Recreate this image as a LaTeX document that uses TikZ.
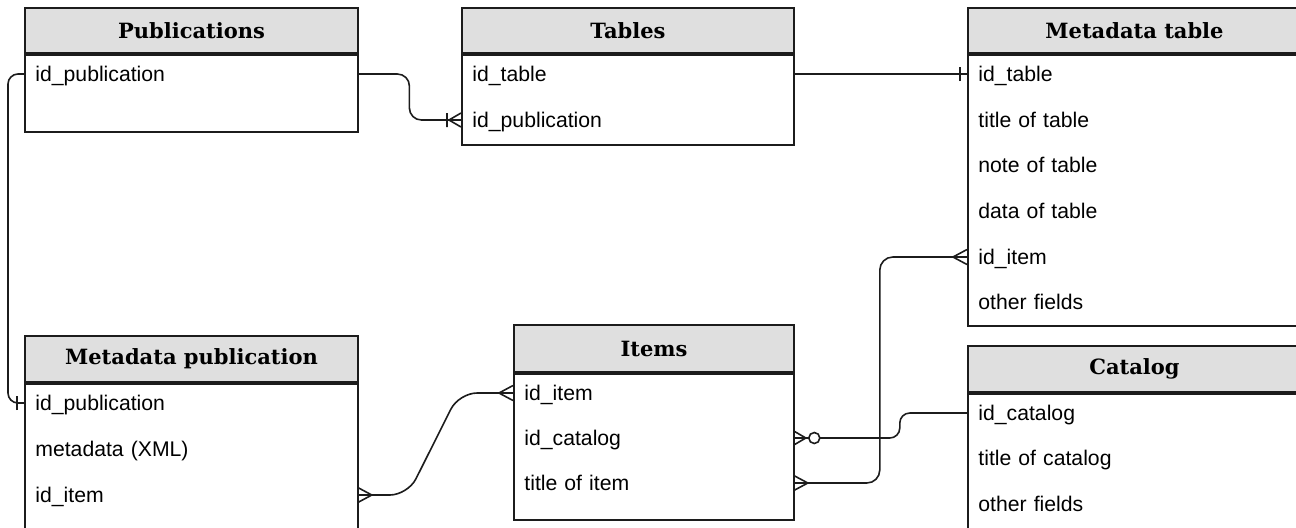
\documentclass[tikz,border=0pt]{standalone}
\usepackage{fontspec}
\setmainfont{Liberation Sans}
\newfontfamily\headfont{DejaVu Serif}
\usetikzlibrary{calc}

\definecolor{headgray}{HTML}{DFDFDF}
\definecolor{edgecol}{HTML}{1C1C1C}

\tikzset{
  head/.style={draw=edgecol,fill=headgray,line width=1pt,rectangle,anchor=north west,inner sep=0pt,
    font=\headfont\bfseries\fontsize{10.5}{12}\selectfont},
  body/.style={draw=edgecol,line width=1pt,rectangle,anchor=north west,inner sep=0pt},
  row/.style={anchor=west,text width=#1,inner xsep=5.5pt,inner ysep=0pt,text height=7.6pt,text depth=0pt,
    align=left,font=\fontsize{10.6}{12}\selectfont},
  link/.style={draw=edgecol,line width=0.8pt},
  many/.pic={\draw[link] (14,0) -- (0,-7.5) (14,0) -- (0,7.5);},
  one/.pic={\draw[link] (7,-7) -- (7,7);},
  onemany/.pic={\draw[link] (14,-7) -- (14,7) (12,0) -- (0,-7) (12,0) -- (0,7);},
  zeromany/.pic={\draw[link] (12,0) -- (0,-7) (12,0) -- (0,7); \draw[link,fill=white] (20.5,0) circle (2.75pt);}
}

\begin{document}
\begin{tikzpicture}[x=0.5pt,y=-0.5pt]
  \useasboundingbox (0,0) rectangle (1296,527);

  \node[head,minimum width=166.5pt,minimum height=22.5pt] (pub) at (24,7) {Publications};
  \node[body,minimum width=166.5pt,minimum height=38.5pt] (pub-body) at (pub.south west) {};
  \node[row=155.5pt] (pub-id) at (24,74) {id\_publication};

  \node[head,minimum width=166pt,minimum height=22.5pt] (tab) at (461,7) {Tables};
  \node[body,minimum width=166pt,minimum height=45pt] (tab-body) at (tab.south west) {};
  \node[row=155pt] (tab-id) at (461,74) {id\_table};
  \node[row=155pt] (tab-pub) at (461,120) {id\_publication};

  \node[head,minimum width=166.5pt,minimum height=22.5pt] (mtab) at (967,7) {Metadata table};
  \node[body,minimum width=166.5pt,minimum height=135.5pt] (mtab-body) at (mtab.south west) {};
  \node[row=155.5pt] (mtab-id) at (967,74) {id\_table};
  \node[row=155.5pt] (mtab-title) at (967,120) {title of table};
  \node[row=155.5pt] (mtab-note) at (967,165) {note of table};
  \node[row=155.5pt] (mtab-data) at (967,211) {data of table};
  \node[row=155.5pt] (mtab-item) at (967,257) {id\_item};
  \node[row=155.5pt] (mtab-other) at (967,302) {other fields};

  \node[head,minimum width=166.5pt,minimum height=23pt] (mpub) at (24,335) {Metadata publication};
  \node[body,minimum width=166.5pt,minimum height=75.5pt] (mpub-body) at (mpub.south west) {};
  \node[row=155.5pt] (mpub-id) at (24,403) {id\_publication};
  \node[row=155.5pt] (mpub-xml) at (24,449) {metadata (XML)};
  \node[row=155.5pt] (mpub-item) at (24,495) {id\_item};

  \node[head,minimum width=140pt,minimum height=23.5pt] (item) at (513,324) {Items};
  \node[body,minimum width=140pt,minimum height=73pt] (item-body) at (item.south west) {};
  \node[row=129pt] (item-id) at (513,393) {id\_item};
  \node[row=129pt] (item-cat) at (513,438) {id\_catalog};
  \node[row=129pt] (item-title) at (513,483) {title of item};

  \node[head,minimum width=166.5pt,minimum height=23pt] (cat) at (967,345) {Catalog};
  \node[body,minimum width=166.5pt,minimum height=70.5pt] (cat-body) at (cat.south west) {};
  \node[row=155.5pt] (cat-id) at (967,413) {id\_catalog};
  \node[row=155.5pt] (cat-title) at (967,458) {title of catalog};
  \node[row=155.5pt] (cat-other) at (967,504) {other fields};

  \draw[link,rounded corners=5pt] (pub-id.west) -- ++(-16,0) |- (mpub-id.west);
  \draw[link,rounded corners=6pt] (pub-id.east) -| ($(pub-id.east)!.5!(tab-pub.west)$) |- (tab-pub.west);
  \draw[link] (tab-id.east) -- (mtab-id.west);
  \draw[link,rounded corners=9pt] (mpub-item.east) -- ++(50,0) -- ($(item-id.west)+(-54,0)$) -- (item-id.west);
  \draw[link,rounded corners=5pt] (item-cat.east) -- ++(106,0) |- (cat-id.west);
  \draw[link,rounded corners=6.5pt] (item-title.east) -- ++(86,0) |- (mtab-item.west);

  \pic[rotate=180] at (mpub-id.west) {one};
  \pic[rotate=180] at (tab-pub.west) {onemany};
  \pic[rotate=180] at (mtab-id.west) {one};
  \pic at (mpub-item.east) {many};
  \pic[rotate=180] at (item-id.west) {many};
  \pic at (item-cat.east) {zeromany};
  \pic at (item-title.east) {many};
  \pic[rotate=180] at (mtab-item.west) {many};
\end{tikzpicture}
\end{document}
